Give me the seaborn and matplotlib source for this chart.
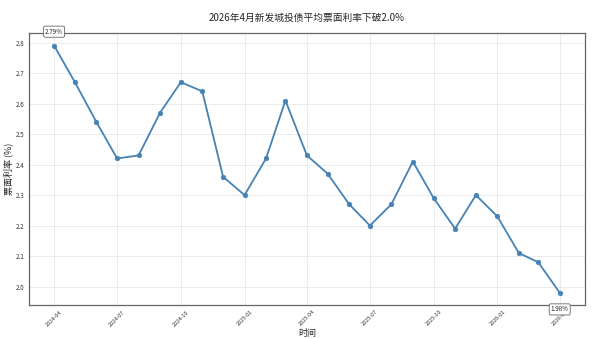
import matplotlib
matplotlib.use("Agg")
import matplotlib.pyplot as plt
import matplotlib.dates as mdates
import seaborn as sns
import pandas as pd

months = ["2024-04", "2024-05", "2024-06", "2024-07", "2024-08", "2024-09",
          "2024-10", "2024-11", "2024-12", "2025-01", "2025-02", "2025-03",
          "2025-04", "2025-05", "2025-06", "2025-07", "2025-08", "2025-09",
          "2025-10", "2025-11", "2025-12", "2026-01", "2026-02", "2026-03",
          "2026-04"]
rates = [2.79, 2.67, 2.54, 2.42, 2.43, 2.57, 2.67, 2.64, 2.36, 2.30, 2.42, 2.61,
         2.43, 2.37, 2.27, 2.20, 2.27, 2.41, 2.29, 2.19, 2.30, 2.23, 2.11, 2.08,
         1.98]
title = "2026年4月新发城投债平均票面利率下破2.0%"
xlabel = "时间"
ylabel = "票面利率 (%)"

df = pd.DataFrame({"date": pd.to_datetime(months), "rate": rates})

sns.set_theme(style="whitegrid")
plt.rcParams['font.family'] = ['Noto Sans CJK SC', 'DejaVu Sans']

fig = plt.figure(figsize=(6, 3.39), dpi=100)
ax = fig.add_axes([0.048, 0.1, 0.927, 0.802])

sns.lineplot(data=df, x="date", y="rate", ax=ax, color="#4682b4",
             linewidth=1.3, marker="o", markersize=3.5, markeredgewidth=0.3,
             markeredgecolor="#4682b4")

ax.set_title(title, fontsize=7, pad=9)
ax.set_xlabel(xlabel, fontsize=6.5, labelpad=1)
ax.set_ylabel(ylabel, fontsize=6.5, labelpad=2)

ax.xaxis.set_major_locator(mdates.MonthLocator(bymonth=[1, 4, 7, 10]))
ax.xaxis.set_major_formatter(mdates.DateFormatter("%Y-%m"))
ax.tick_params(axis="x", labelsize=4, rotation=45, length=2, pad=1, colors="#333333")
ax.tick_params(axis="y", labelsize=4.5, length=2, pad=1, colors="#333333")
ax.set_yticks([2.0, 2.1, 2.2, 2.3, 2.4, 2.5, 2.6, 2.7, 2.8])

ax.grid(True, color="#e8e8e8", linewidth=0.6)
for s in ax.spines.values():
    s.set_color("#666666")
    s.set_linewidth(0.9)

box = dict(boxstyle="round,pad=0.25", fc="white", ec="#666666", lw=0.6)
ax.annotate(f"{rates[0]:.2f}%", xy=(df["date"].iloc[0], rates[0]),
            xytext=(0, 10), textcoords="offset points", ha="center", va="center",
            fontsize=4.5, bbox=box, annotation_clip=False)
ax.annotate(f"{rates[-1]:.2f}%", xy=(df["date"].iloc[-1], rates[-1]),
            xytext=(0, -12), textcoords="offset points", ha="center", va="center",
            fontsize=4.5, bbox=box, annotation_clip=False)

fig.savefig("out.png", dpi=100)
